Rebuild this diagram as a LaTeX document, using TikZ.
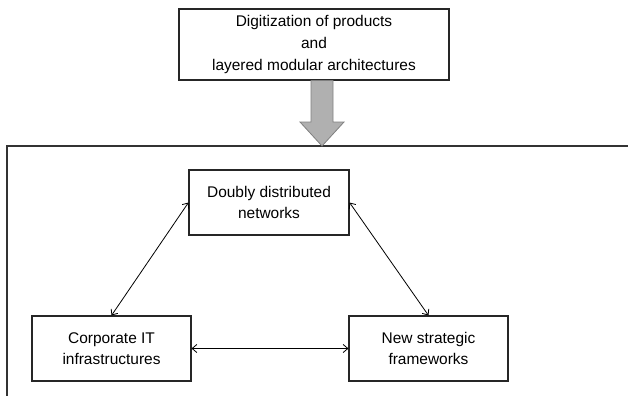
\documentclass[tikz,border=0pt]{standalone}
\usepackage{fontspec}
\setmainfont{Liberation Sans}
\usetikzlibrary{positioning,arrows.meta}

\tikzset{
    box/.style={draw=black!85, line width=0.8pt, align=center, inner sep=2pt,
        font=\fontsize{11.6}{16}\selectfont},
    link/.style={{Straight Barb[length=3.5pt,width=6pt]}-{Straight Barb[length=3.5pt,width=6pt]}, line width=0.6pt}
}

\begin{document}
\begin{tikzpicture}[x=0.75pt, y=-0.75pt]
    % Canvas
    \useasboundingbox (0,0) rectangle (628,396);

    % Top box
    \node[box, minimum width=270*0.75pt, minimum height=71*0.75pt,
        font=\fontsize{11.6}{16.5}\selectfont] (digit) at (314,44.5)
        {Digitization of products\\and\\layered modular architectures};

    % Frame around the triangle (only top and left edges in view)
    \draw[line width=1pt, black!80] (7,400) -- (7,146) -- (632,146);

    % Block arrow down into the frame
    \fill[gray!62, draw=black!50, line width=0.6pt]
        (311,80.5) -- (333,80.5) -- (333,122) -- (344,122) -- (322,146)
        -- (300,122) -- (311,122) -- cycle;

    % The three boxes
    \node[box, minimum width=160*0.75pt, minimum height=65*0.75pt] (dnet) at (269,202.5)
        {Doubly distributed\\networks};
    \node[box, minimum width=159*0.75pt, minimum height=65*0.75pt] (corp) at (111.5,348.5)
        {Corporate IT\\infrastructures};
    \node[box, minimum width=159*0.75pt, minimum height=65*0.75pt] (strat) at (428.5,348.5)
        {New strategic\\frameworks};

    % Two-way links
    \draw[link] (dnet.west) -- (corp.north);
    \draw[link] (dnet.east) -- (strat.north);
    \draw[link] (corp.east) -- (strat.west);
\end{tikzpicture}
\end{document}
